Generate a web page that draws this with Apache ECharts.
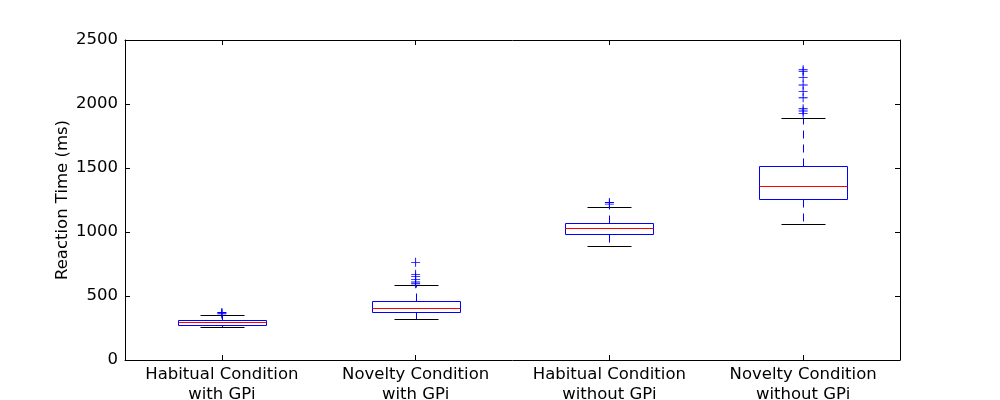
<!DOCTYPE html>
<html>
<head>
<meta charset="utf-8">
<title>Reaction Time</title>
<script src="https://cdn.jsdelivr.net/npm/echarts@6/dist/echarts.min.js"></script>
<style>
  html, body { margin: 0; padding: 0; background: #fff; }
  #chart { width: 1000px; height: 400px; }
</style>
</head>
<body>
<div id="chart"></div>
<script>
// categories and box statistics (ms)
const categories = [
  'Habitual Condition\nwith GPi',
  'Novelty Condition\nwith GPi',
  'Habitual Condition\nwithout GPi',
  'Novelty Condition\nwithout GPi'
];
const lowCaps  = [255, 318, 888, 1062];
const q1       = [273, 372, 987, 1258];
const medians  = [294, 404, 1028, 1357];
const q3       = [312, 458, 1068, 1512];
const highCaps = [351, 586, 1195, 1888];
// outliers per category
const fliers = [
  [360, 366, 371],
  [596, 609, 630, 651, 669, 763],
  [1218, 1230],
  [1927, 1945, 1963, 2049, 2099, 2148, 2208, 2255, 2268]
];
const yTicks = [0, 500, 1000, 1500, 2000, 2500];

const FONT = 'DejaVu Sans';
const FS = 16.5;
const BLUE = '#0000ff';

const boxData = categories.map((c, i) => [i, lowCaps[i], q1[i], medians[i], q3[i], highCaps[i]]);
const flierData = [];
fliers.forEach((arr, i) => arr.forEach(v => flierData.push([i, v])));

// snap to half pixels so 1px lines stay sharp
const px = v => Math.round(v) + 0.5;

function renderBox(params, api) {
  const i = api.value(0);
  const lo = api.coord([i, api.value(1)]);
  const b1 = api.coord([i, api.value(2)]);
  const md = api.coord([i, api.value(3)]);
  const b3 = api.coord([i, api.value(4)]);
  const hi = api.coord([i, api.value(5)]);
  const band = api.size([1, 0])[0];
  const half = Math.round(band * 0.225);
  const capHalf = Math.round(half / 2);
  const x = px(lo[0]);
  const yLo = px(lo[1]), y1 = px(b1[1]), yM = px(md[1]), y3 = px(b3[1]), yHi = px(hi[1]);
  const whisker = { stroke: BLUE, lineWidth: 1, lineDash: [8, 6], fill: null };
  return {
    type: 'group',
    children: [
      { type: 'line', shape: { x1: x, y1: y3, x2: x, y2: yHi }, style: whisker },
      { type: 'line', shape: { x1: x, y1: y1, x2: x, y2: yLo }, style: whisker },
      { type: 'line', shape: { x1: x - capHalf, y1: yHi, x2: x + capHalf, y2: yHi },
        style: { stroke: '#000', lineWidth: 1 } },
      { type: 'line', shape: { x1: x - capHalf, y1: yLo, x2: x + capHalf, y2: yLo },
        style: { stroke: '#000', lineWidth: 1 } },
      { type: 'rect', shape: { x: x - half, y: y3, width: half * 2, height: y1 - y3 },
        style: { stroke: BLUE, lineWidth: 1, fill: null } },
      { type: 'line', shape: { x1: x - half, y1: yM, x2: x + half, y2: yM },
        style: { stroke: '#ff0000', lineWidth: 1 } }
    ]
  };
}

const chart = echarts.init(document.getElementById('chart'));
const tickStyle = { show: true, inside: true, length: 5, lineStyle: { color: '#000' } };
const lineStyle = { show: true, onZero: false, lineStyle: { color: '#000', width: 1 } };
chart.setOption({
  animation: false,
  textStyle: { fontFamily: FONT },
  grid: { left: 125, right: 100, top: 40, bottom: 40, containLabel: false, outerBoundsMode: 'none' },
  xAxis: [{
    type: 'category',
    data: categories,
    position: 'bottom',
    axisLine: lineStyle,
    axisTick: Object.assign({ alignWithLabel: true }, tickStyle),
    axisLabel: { color: '#000', fontSize: FS, fontFamily: FONT, lineHeight: 20, margin: 5, interval: 0 }
  }, {
    type: 'category',
    data: categories,
    position: 'top',
    axisLine: lineStyle,
    axisTick: Object.assign({ alignWithLabel: true }, tickStyle),
    axisLabel: { show: false }
  }],
  yAxis: [{
    type: 'value',
    min: yTicks[0],
    max: yTicks[yTicks.length - 1],
    interval: 500,
    name: 'Reaction Time (ms)',
    nameLocation: 'middle',
    nameGap: 54,
    nameMoveOverlap: false,
    nameTextStyle: { color: '#000', fontSize: FS, fontFamily: FONT },
    axisLine: lineStyle,
    axisTick: tickStyle,
    axisLabel: { color: '#000', fontSize: FS, fontFamily: FONT, margin: 7, formatter: v => String(v) },
    splitLine: { show: false }
  }, {
    type: 'value',
    min: yTicks[0],
    max: yTicks[yTicks.length - 1],
    interval: 500,
    position: 'right',
    axisLine: lineStyle,
    axisTick: tickStyle,
    axisLabel: { show: false },
    splitLine: { show: false }
  }],
  series: [{
    type: 'custom',
    renderItem: renderBox,
    data: boxData,
    encode: { x: 0, y: [1, 2, 3, 4, 5] },
    clip: false
  }, {
    type: 'scatter',
    data: flierData,
    symbol: 'path://M4.5,0h1v10h-1z M0,4.5h10v1h-10z',
    symbolSize: 9,
    itemStyle: { color: BLUE, opacity: 1 },
    z: 3
  }]
});
</script>
</body>
</html>
